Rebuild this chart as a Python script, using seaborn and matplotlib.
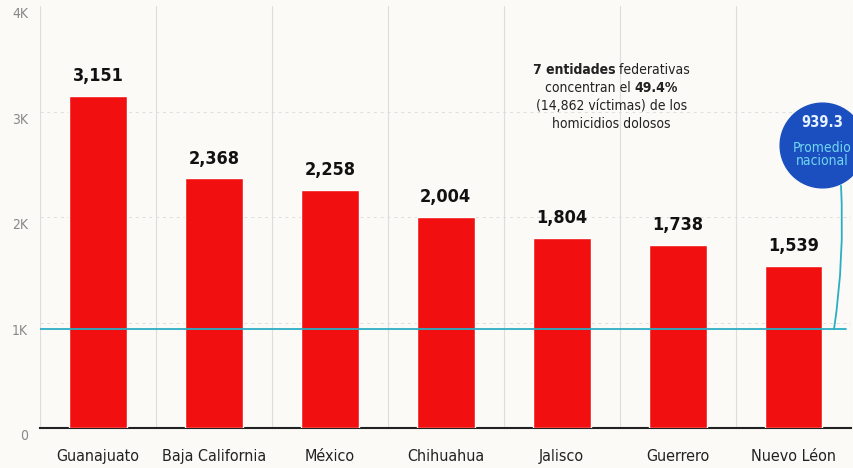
import matplotlib
matplotlib.use("Agg")
import matplotlib.pyplot as plt
import matplotlib.transforms as mtransforms
import seaborn as sns
import pandas as pd
from matplotlib.offsetbox import TextArea, HPacker, VPacker, AnnotationBbox

estados = ["Guanajuato", "Baja California", "México", "Chihuahua",
           "Jalisco", "Guerrero", "Nuevo Léon"]
homicidios = [3151, 2368, 2258, 2004, 1804, 1738, 1539]
promedio = 939.3
yticks = [0, 1000, 2000, 3000, 4000]
ytick_labels = ["0", "1K", "2K", "3K", "4K"]

sns.set_style("white")
plt.rcParams['font.family'] = ['DejaVu Sans']
plt.rcParams['font.stretch'] = 'condensed'

df = pd.DataFrame({"estado": estados, "victimas": homicidios})

fig = plt.figure(figsize=(8.54, 4.68), dpi=100)
fig.patch.set_facecolor("#fbfaf6")
ax = fig.add_axes([0.047, 0.0855, 0.95, 0.9009])
ax.set_facecolor("#fbfaf6")

sns.barplot(data=df, x="estado", y="victimas", color="#f20f0f",
            width=0.5, saturation=1, ax=ax, zorder=3)

ax.set_xlim(-0.5, len(estados) - 0.5)
ax.set_ylim(0, 4000)
ax.set_yticks(yticks)
ax.set_yticklabels([])
ax.tick_params(axis="y", length=0)
# etiquetas del eje y, un poco por debajo de su marca
trans = ax.get_yaxis_transform() + mtransforms.ScaledTranslation(
    -0.12, -0.08, fig.dpi_scale_trans)
for y, lab in zip(yticks, ytick_labels):
    ax.text(0, y, lab, transform=trans, ha="right", va="center",
            color="#888888", fontsize=10, clip_on=False)
ax.tick_params(axis="x", length=0, pad=15, labelsize=11.5, labelcolor="#222222")
ax.set_xlabel("")
ax.set_ylabel("")
for s in ["top", "right", "left"]:
    ax.spines[s].set_visible(False)
ax.spines["bottom"].set_color("#222222")
ax.spines["bottom"].set_linewidth(1.5)

# separadores verticales
for i in range(len(estados) + 1):
    ax.axvline(i - 0.5, color="#dddddd", lw=0.8, zorder=1)
for y in [1000, 2000, 3000]:
    ax.axhline(y, color="#dedede", lw=0.7, ls=(0, (3, 4)), zorder=1)

for i, v in enumerate(homicidios):
    ax.text(i, v + 100, f"{v:,}", ha="center", va="bottom",
            fontsize=13, fontweight="bold", color="#111111")

# promedio nacional
ax.axhline(promedio, xmax=0.993, color="#2aaec4", lw=1.3, zorder=4)
ax.annotate("", xy=(6.35, promedio), xytext=(6.41, 2300),
            arrowprops=dict(arrowstyle="-", color="#2aaec4", lw=1.3,
                            connectionstyle="arc3,rad=-0.05",
                            shrinkA=0, shrinkB=0),
            zorder=4, annotation_clip=False)
ax.plot([6.25], [2685], marker="o", markersize=61, color="#1b4fbf",
        clip_on=False, zorder=5)
ax.text(6.25, 2894, "939.3", ha="center", va="center", fontsize=10.5,
        fontweight="bold", color="#e6f2ff", zorder=6, clip_on=False)
ax.text(6.25, 2595, "Promedio\nnacional", ha="center", va="center",
        fontsize=10, color="#6fd6ef", linespacing=0.9, zorder=6, clip_on=False)

# nota
def linea(partes):
    return HPacker(children=[TextArea(t, textprops=dict(fontsize=10,
                   fontweight=w, color="#222222")) for t, w in partes],
                   pad=0, sep=0, align="baseline")

nota = VPacker(children=[
    linea([("7 entidades", "bold"), (" federativas", "normal")]),
    linea([("concentran el ", "normal"), ("49.4%", "bold")]),
    linea([("(14,862 víctimas) de los", "normal")]),
    linea([("homicidios dolosos", "normal")]),
], pad=0, sep=3, align="center")
ab = AnnotationBbox(nota, (4.43, 3140), frameon=False, box_alignment=(0.5, 0.5))
ax.add_artist(ab)

fig.savefig("out.png", dpi=100, facecolor=fig.get_facecolor())
